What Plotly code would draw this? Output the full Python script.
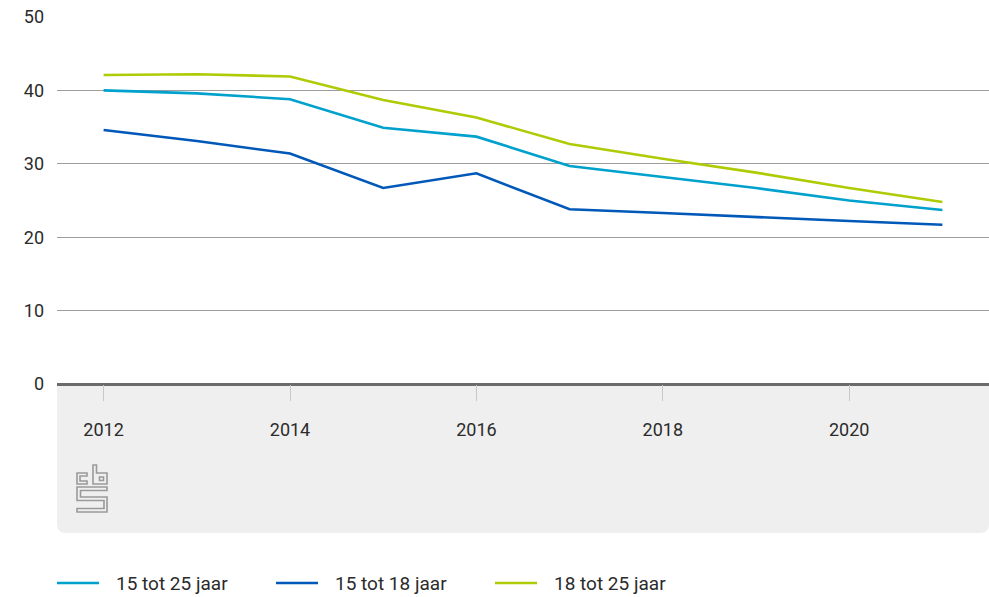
import plotly.graph_objects as go

# Youth share per year, three age groups
years = [2012, 2013, 2014, 2015, 2016, 2017, 2018, 2019, 2020, 2021]
age_15_25 = [40.0, 39.6, 38.8, 34.9, 33.7, 29.7, 28.2, 26.7, 25.0, 23.7]
age_15_18 = [34.6, 33.1, 31.4, 26.7, 28.7, 23.8, 23.3, 22.7, 22.2, 21.7]
age_18_25 = [42.1, 42.2, 41.9, 38.7, 36.3, 32.7, 30.7, 28.8, 26.7, 24.8]

series_names = ["15 tot 25 jaar", "15 tot 18 jaar", "18 tot 25 jaar"]
series_values = [age_15_25, age_15_18, age_18_25]
series_colors = ["#00a1cd", "#0058b8", "#afcb05"]

x_ticks = [2012, 2014, 2016, 2018, 2020]
y_ticks = [0, 10, 20, 30, 40, 50]

W, H = 989, 597
ML, MR, MT, MB = 57, 0, 17, 213
PW, PH = W - ML - MR, H - MT - MB
FONT = "Roboto, 'Open Sans', sans-serif"
TEXT = "#2b2b2b"


def px(x):
    return (x - ML) / PW


def py(y):
    return (H - MB - y) / PH


def path(points, close=True):
    s = "M" + " L".join(f"{px(a):.5f},{py(b):.5f}" for a, b in points)
    return s + (" Z" if close else "")


fig = go.Figure()
for name, vals, col in zip(series_names, series_values, series_colors):
    fig.add_trace(go.Scatter(
        x=years, y=vals, name=name, mode="lines",
        line=dict(color=col, width=2.6), showlegend=False,
    ))

shapes = []

# grey footer panel under the x axis, rounded bottom corners
top, bot, left, right, r = 384, 533, 57, 989, 9
panel = (f"M{px(left):.5f},{py(top):.5f} L{px(right):.5f},{py(top):.5f} "
         f"L{px(right):.5f},{py(bot - r):.5f} "
         f"Q{px(right):.5f},{py(bot):.5f} {px(right - r):.5f},{py(bot):.5f} "
         f"L{px(left + r):.5f},{py(bot):.5f} "
         f"Q{px(left):.5f},{py(bot):.5f} {px(left):.5f},{py(bot - r):.5f} Z")
shapes.append(dict(type="path", xref="paper", yref="paper", path=panel,
                   fillcolor="#efefef", line=dict(width=0), layer="below"))

# cbs logo outline
logo_col = "#9a9a9a"
logo_parts = [
    [(87, 473), (77, 473), (77, 484), (87, 484), (87, 481), (80, 481), (80, 476), (87, 476)],
    [(93, 465), (96.5, 465), (96.5, 473), (107, 473), (107, 484), (93, 484)],
    [(99.5, 477), (103.5, 477), (103.5, 480.5), (99.5, 480.5)],
    [(107, 487), (77, 487), (77, 500.5), (104, 500.5), (104, 508.5), (77, 508.5),
     (77, 512), (107, 512), (107, 497), (80.5, 497), (80.5, 490.5), (107, 490.5)],
]
for part in logo_parts:
    shapes.append(dict(type="path", xref="paper", yref="paper", path=path(part),
                       line=dict(color=logo_col, width=1.6), fillcolor="rgba(0,0,0,0)"))

# legend drawn below the panel
annotations = []
leg_y = 583
for i, (name, col) in enumerate(zip(series_names, series_colors)):
    x0 = 57 + i * 219
    shapes.append(dict(type="line", xref="paper", yref="paper",
                       x0=px(x0), x1=px(x0 + 42), y0=py(leg_y), y1=py(leg_y),
                       line=dict(color=col, width=2.6)))
    annotations.append(dict(xref="paper", yref="paper", x=px(x0 + 57), y=py(leg_y),
                            xanchor="left", yanchor="middle", showarrow=False,
                            text=name, font=dict(family=FONT, size=19, color=TEXT)))

fig.update_layout(
    width=W, height=H,
    margin=dict(l=ML, r=MR, t=MT, b=MB, pad=0),
    paper_bgcolor="white", plot_bgcolor="white",
    font=dict(family=FONT, size=18, color=TEXT),
    shapes=shapes, annotations=annotations,
    showlegend=False,
    xaxis=dict(
        range=[2011.5, 2021.5], tickvals=x_ticks, ticktext=[str(v) for v in x_ticks],
        ticks="outside", ticklen=16, tickcolor="#c8c8c8", tickwidth=1,
        showgrid=False, zeroline=False, showline=False,
        ticklabelstandoff=13, fixedrange=True,
    ),
    yaxis=dict(
        range=[0, 50], tickvals=y_ticks,
        showgrid=True, gridcolor="#9e9e9e", gridwidth=1,
        zeroline=True, zerolinecolor="#6b6b6b", zerolinewidth=3,
        showline=False, ticks="", ticklabelstandoff=12, fixedrange=True,
    ),
)

fig.write_html("out.html")
